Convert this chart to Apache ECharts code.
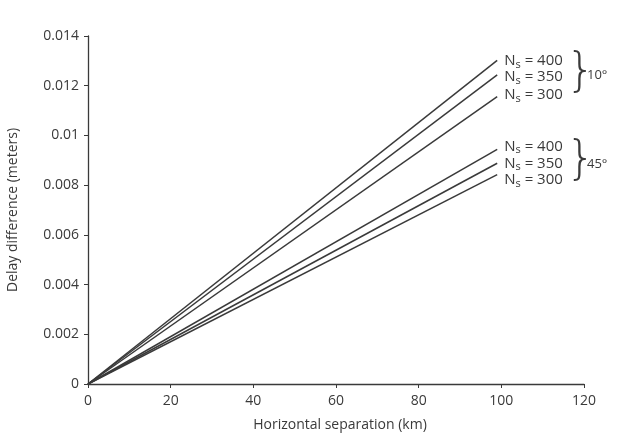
<!DOCTYPE html>
<html>
<head>
<meta charset="utf-8">
<script src="https://cdn.jsdelivr.net/npm/echarts@6/dist/echarts.min.js"></script>
<style>
  html, body { margin: 0; padding: 0; background: #fff; }
  #main { width: 626px; height: 447px; }
</style>
</head>
<body>
<div id="main"></div>
<script>
// data: straight lines from the origin
const xEnd = 99;               // lines stop just short of 100 km
const nsValues = [400, 350, 300];
const delay10 = [0.01302, 0.01244, 0.01156];  // elevation 10 deg
const delay45 = [0.00944, 0.00888, 0.00842];  // elevation 45 deg
// small vertical nudges so the labels sit evenly spaced like the figure
const nudge10 = [0, 2, -2];
const nudge45 = [-3, 0, 5];

const Chart = echarts.init(document.getElementById('main'), null, { renderer: 'canvas' });

const fontFam = '"Open Sans", "DejaVu Sans", sans-serif';
const ink = '#3a3a3a';

function makeSeries(vals, nudges, tag) {
    return vals.map((v, i) => ({
        name: tag + ' Ns=' + nsValues[i],
        type: 'line',
        data: [[0, 0], [xEnd, v]],
        symbol: 'none',
        silent: true,
        lineStyle: { color: ink, width: 1.5 },
        labelLayout: { hideOverlap: false },
        endLabel: {
            show: true,
            distance: 7,
            offset: [0, nudges[i]],
            formatter: '{n|N}{s|s}{n| = ' + nsValues[i] + '}',
            rich: {
                n: { fontFamily: fontFam, fontSize: 15, color: ink },
                s: { fontFamily: fontFam, fontSize: 11, color: ink, padding: [8, 0, 0, 0] }
            }
        }
    }));
}

var option = {
    animation: false,
    grid: { left: 88, right: 42, top: 36, bottom: 63, containLabel: false, outerBoundsMode: 'none' },
    xAxis: {
        type: 'value',
        min: 0, max: 120, interval: 20,
        name: 'Horizontal separation (km)',
        nameLocation: 'middle',
        nameGap: 34,
        nameTextStyle: { fontFamily: fontFam, fontSize: 14, color: ink, padding: [0, 0, 0, 8] },
        axisLine: { lineStyle: { color: ink, width: 1.3 } },
        axisTick: { show: true, length: 4, lineStyle: { color: ink } },
        axisLabel: { fontFamily: fontFam, fontSize: 14, color: ink, margin: 10 },
        splitLine: { show: false }
    },
    yAxis: {
        type: 'value',
        min: 0, max: 0.014, interval: 0.002,
        name: 'Delay difference (meters)',
        nameLocation: 'middle',
        nameGap: 68,
        nameRotate: 90,
        nameTextStyle: { fontFamily: fontFam, fontSize: 14, color: ink },
        axisLine: { show: true, lineStyle: { color: ink, width: 1.3 } },
        axisTick: { show: true, length: 4, lineStyle: { color: ink } },
        axisLabel: { fontFamily: fontFam, fontSize: 14, color: ink, margin: 9,
            formatter: v => (v === 0 ? '0' : String(+v.toFixed(3))) },
        splitLine: { show: false }
    },
    series: makeSeries(delay10, nudge10, '10').concat(makeSeries(delay45, nudge45, '45')),
    graphic: [
        { type: 'text', left: 566, top: 50, style: { text: '}', font: '200 46px "DejaVu Sans"', fill: ink } },
        { type: 'text', left: 587, top: 69, style: { text: '10°', font: '13px ' + fontFam, fill: ink } },
        { type: 'text', left: 566, top: 138, style: { text: '}', font: '200 46px "DejaVu Sans"', fill: ink } },
        { type: 'text', left: 587, top: 158, style: { text: '45°', font: '13px ' + fontFam, fill: ink } }
    ]
};

Chart.setOption(option, true);
</script>
</body>
</html>
